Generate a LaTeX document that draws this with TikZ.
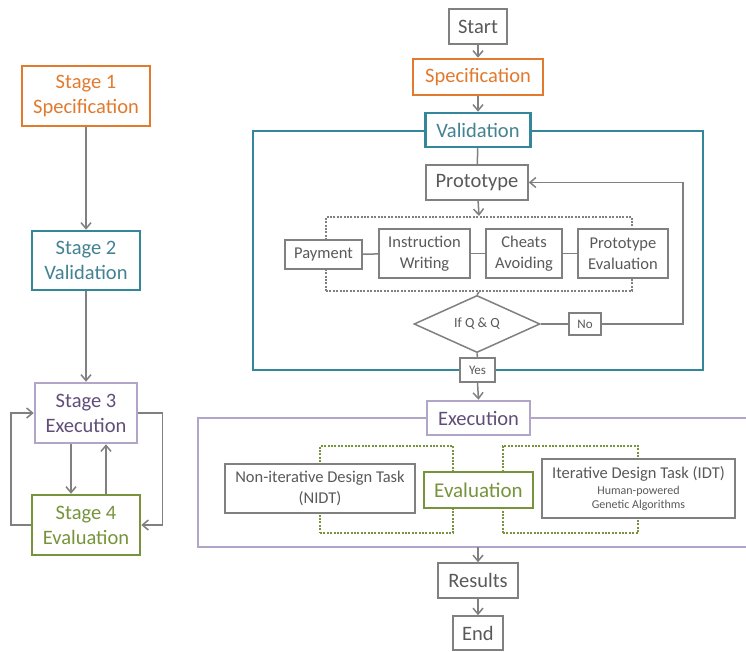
\documentclass[tikz,border=0pt]{standalone}
\usepackage{fontspec}
\setmainfont{Carlito}
\usetikzlibrary{arrows.meta,shapes.geometric}
\definecolor{cOr}{RGB}{226,122,46}
\definecolor{cTe}{RGB}{52,134,154}
\definecolor{cTeT}{RGB}{66,130,146}
\definecolor{cPuB}{RGB}{178,166,200}
\definecolor{cPuT}{RGB}{96,78,120}
\definecolor{cGr}{RGB}{119,147,60}
\definecolor{cGy}{RGB}{128,128,128}
\definecolor{cGyT}{RGB}{89,89,89}
\begin{document}
\begin{tikzpicture}[x=1pt,y=-1pt,
  box/.style={draw=cGy,line width=1.5pt,fill=white,inner sep=0pt,align=center,text=cGyT,
    font=\fontsize{20.5}{25}\selectfont},
  midbox/.style={box,font=\fontsize{16.5}{21}\selectfont},
  tinybox/.style={box,font=\fontsize{13}{15}\selectfont},
  orbox/.style={box,draw=cOr,text=cOr,line width=2.5pt},
  tebox/.style={box,draw=cTe,text=cTeT,line width=2.5pt},
  pubox/.style={box,draw=cPuB,text=cPuT,line width=2.5pt},
  grbox/.style={box,draw=cGr,text=cGr,line width=2.5pt},
  dotbox/.style={draw=cGy,line width=2pt,dash pattern=on 2pt off 1.4pt,inner sep=0pt},
  gdotbox/.style={dotbox,draw=cGr},
  conn/.style={draw=cGy,line width=1.5pt},
  arr/.style={conn,-{Straight Barb[length=6pt,width=10pt,line width=1.5pt]}}
]
\useasboundingbox (0,0) rectangle (746,652);
% frames
\draw[draw=cTe,line width=1.5pt] (253,131) rectangle (703,370);
\draw[draw=cPuB,line width=1.5pt] (746,418) -- (198,418) -- (198,547) -- (746,547);
% left column
\node[orbox,minimum width=128,minimum height=60] (s1) at (86,96) {Stage 1\\Specification};
\node[tebox,minimum width=108,minimum height=59] (s2) at (86,260.5) {Stage 2\\Validation};
\node[pubox,minimum width=102,minimum height=60] (s3) at (86,413) {Stage 3\\Execution};
\node[grbox,minimum width=108,minimum height=60] (s4) at (86,525) {Stage 4\\Evaluation};
\draw[arr] (s1) -- (s2);
\draw[arr] (s2) -- (s3);
\draw[arr] ([xshift=-15pt]s3.south) -- ([xshift=-15pt]s3.south |- s4.north);
\draw[arr] ([xshift=20pt]s4.north) -- ([xshift=20pt]s4.north |- s3.south);
\draw[arr] (s4.west) -- ++(-20,0) |- (s3.west);
\draw[arr] (s3.east) -- ++(24,0) |- (s4.east);
% right flow
\node[box,minimum width=58,minimum height=35] (start) at (478,26.5) {Start};
\node[orbox,minimum width=130,minimum height=36] (spec) at (478,77) {Specification};
\node[tebox,minimum width=105,minimum height=34] (valid) at (478,130) {Validation};
\node[box,minimum width=102,minimum height=35] (proto) at (477,182.5) {Prototype};
\node[dotbox,minimum width=306,minimum height=74] (grp) at (479,254) {};
\node[midbox,minimum width=77,minimum height=29] (pay) at (323.5,254.5) {Payment};
\node[midbox,minimum width=91,minimum height=49] (instr) at (424.5,253.5) {Instruction\\Writing};
\node[midbox,minimum width=76,minimum height=49] (cheat) at (524,253.5) {Cheats\\Avoiding};
\node[midbox,minimum width=90,minimum height=49] (peval) at (623,253.5) {Prototype\\Evaluation};
\node[box,shape=diamond,minimum width=126,minimum height=52,font=\fontsize{14}{16}\selectfont] (dia) at (477,324) {If Q \& Q};
\node[tinybox,minimum width=32,minimum height=22] (no) at (585,324) {No};
\node[tinybox,minimum width=35,minimum height=24] (yes) at (477.5,370) {Yes};
\draw[arr] (start) -- (spec);
\draw[arr] (spec) -- (valid);
\draw[conn] (valid) -- (proto);
\draw[arr] (proto) -- (grp.north);
\draw[conn] (pay) -- (instr);
\draw[conn] (instr) -- (cheat);
\draw[conn] (cheat) -- (peval);
\draw[conn] (grp.south) -- (dia.north);
\draw[conn] (dia.east) -- (no.west);
\draw[arr] (no.east) -- (683,324) |- (proto.east);
\draw[conn] (dia.south) -- (yes.north);
% execution
\node[pubox,minimum width=103,minimum height=34] (exec) at (478.5,418) {Execution};
\draw[arr] (yes.south) -- (exec.north);
\node[gdotbox,minimum width=133,minimum height=87] (gl) at (386.5,489.5) {};
\node[gdotbox,minimum width=135,minimum height=87] (gr) at (570.5,489.5) {};
\node[midbox,minimum width=190,minimum height=49] (nidt) at (320,488.5) {Non-iterative Design Task\\(NIDT)};
\node[grbox,minimum width=109,minimum height=36,font=\fontsize{21}{25}\selectfont] (evl) at (478.5,490) {Evaluation};
\node[box,minimum width=193,minimum height=59,font=\fontsize{12}{14.5}\selectfont] (idt) at (638.5,488.5) {{\fontsize{16.5}{18}\selectfont Iterative Design Task (IDT)}\\[1pt]Human-powered\\Genetic Algorithms};
\coordinate (exb) at (478,547);
\node[box,minimum width=80,minimum height=35] (res) at (478,580.5) {Results};
\node[box,minimum width=50,minimum height=34] (fin) at (478,633) {End};
\draw[arr] (exb) -- (res.north);
\draw[arr] (res) -- (fin);
\end{tikzpicture}
\end{document}
